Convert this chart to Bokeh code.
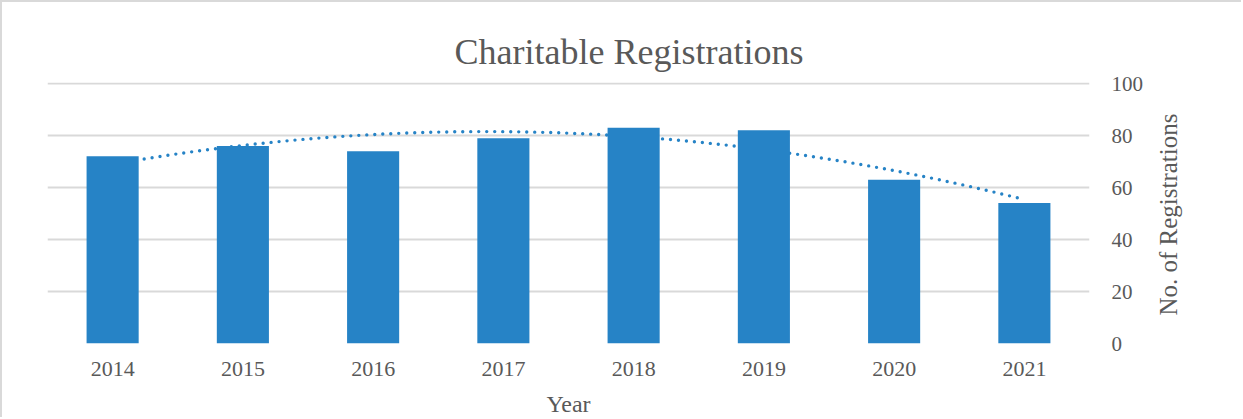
import math
import numpy as np
from bokeh.plotting import figure
from bokeh.layouts import row
from bokeh.models import Range1d, FixedTicker
from bokeh.core.properties import value
from bokeh.embed import file_html
from bokeh.resources import INLINE

# ---- data ----
years = ["2014", "2015", "2016", "2017", "2018", "2019", "2020", "2021"]
registrations = [72, 76, 74, 79, 83, 82, 63, 54]
y_ticks = [0, 20, 40, 60, 80, 100]
title_text = "Charitable Registrations"
x_title = "Year"
y_title = "No. of Registrations"

# ---- styles ----
BLUE = "#2683c6"
TXT = "#595959"
GRID = "#d9d9d9"
FONT = "Liberation Serif"
H = 417

xs = list(range(len(years)))
# polynomial (order 2) trendline, as in the spreadsheet chart
coef = np.polyfit(xs, registrations, 2)
xt = np.linspace(xs[0], xs[-1], 300)
yt = np.polyval(coef, xt)

p = figure(width=1148, height=H,
           x_range=Range1d(-0.5, len(years) - 0.5),
           y_range=Range1d(0, 100.4),
           output_backend="svg", toolbar_location=None,
           y_axis_location="right",
           min_border_left=45, min_border_right=61,
           min_border_top=80, min_border_bottom=76,
           styles={"border-top": "2px solid #d9d9d9",
                   "border-left": "2px solid #d9d9d9"})

p.title.text = title_text
p.title.align = "left"
p.title.offset = 407
p.title.standoff = 21
p.title.text_font = FONT
p.title.text_font_size = "36px"
p.title.text_font_style = "normal"
p.title.text_color = TXT

p.line(xt, yt, line_color=BLUE, line_width=3.4, line_dash="0 8", line_cap="round")
p.vbar(x=xs, top=registrations, width=0.4, fill_color=BLUE, line_color=None)

p.outline_line_color = None
p.xgrid.grid_line_color = None
p.ygrid.grid_line_color = GRID
p.ygrid.grid_line_width = 2
p.ygrid.ticker = FixedTicker(ticks=y_ticks)

xa = p.xaxis[0]
xa.ticker = FixedTicker(ticks=xs)
xa.major_label_overrides = {i: y for i, y in enumerate(years)}
xa.axis_line_color = None
xa.major_tick_line_color = None
xa.minor_tick_line_color = None
xa.major_tick_out = 0
xa.major_label_standoff = 18
xa.major_label_text_font = FONT
xa.major_label_text_font_size = "22px"
xa.major_label_text_color = TXT
xa.axis_label = x_title
xa.axis_label_text_font = FONT
xa.axis_label_text_font_size = "24px"
xa.axis_label_text_font_style = "normal"
xa.axis_label_text_color = TXT
xa.axis_label_standoff = 12

ya = p.yaxis[0]
ya.ticker = FixedTicker(ticks=y_ticks)
ya.axis_line_color = None
ya.major_tick_line_color = None
ya.minor_tick_line_color = None
ya.major_tick_out = 0
ya.major_label_standoff = 22
ya.major_label_text_font = FONT
ya.major_label_text_font_size = "21px"
ya.major_label_text_color = TXT

# side panel holding the right axis title (reads bottom-to-top)
q = figure(width=93, height=H, x_range=Range1d(0, 93), y_range=Range1d(0, H),
           output_backend="svg", toolbar_location=None,
           x_axis_type=None, y_axis_type=None,
           min_border=0, min_border_left=0, min_border_right=0,
           min_border_top=0, min_border_bottom=0,
           styles={"border-top": "2px solid #d9d9d9"})
q.outline_line_color = None
q.grid.grid_line_color = None
q.text(x=[20], y=[H - 211], text=[y_title], angle=math.pi / 2,
       text_align="center", text_baseline="middle",
       text_font=value(FONT), text_font_size="25px", text_color=TXT)

layout = row(p, q, spacing=0)
open("out.html", "w").write(file_html(layout, INLINE))
